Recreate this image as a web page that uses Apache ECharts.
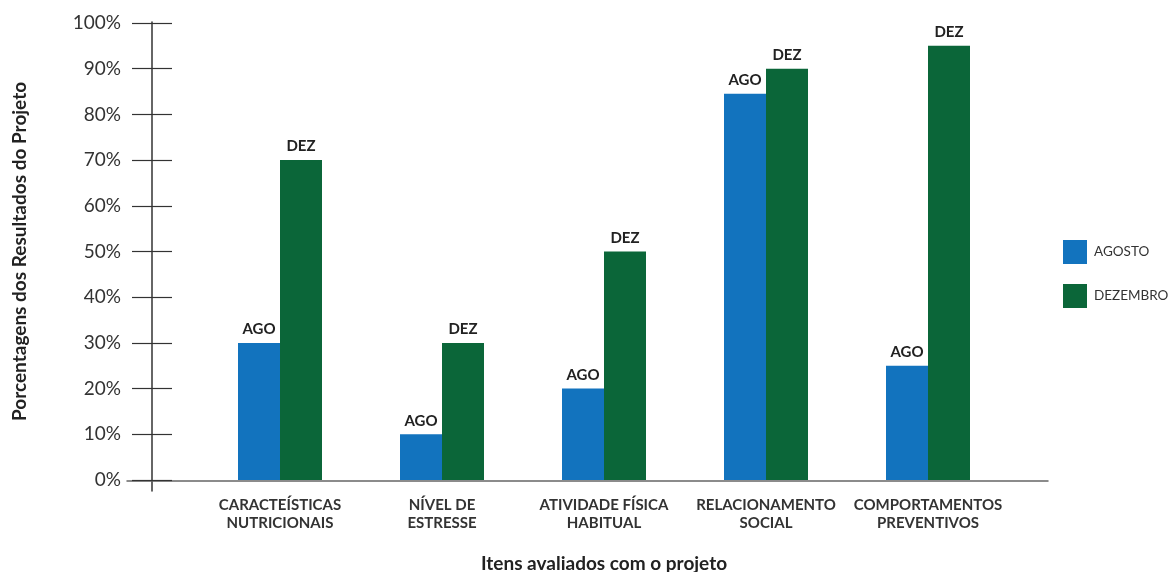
<!DOCTYPE html>
<html>
<head>
<meta charset="utf-8">
<script src="https://cdn.jsdelivr.net/npm/echarts@6/dist/echarts.min.js"></script>
<style>html,body{margin:0;padding:0;background:#fff}#c{width:1171px;height:572px}</style>
</head>
<body>
<div id="c"></div>
<script>
var categories = ['CARACTEÍSTICAS\nNUTRICIONAIS', 'NÍVEL DE\nESTRESSE', 'ATIVIDADE FÍSICA\nHABITUAL', 'RELACIONAMENTO\nSOCIAL', 'COMPORTAMENTOS\nPREVENTIVOS'];
var agosto = [30, 10, 20, 84.5, 25];
var dezembro = [70, 30, 50, 90, 95];
var seriesNames = ['AGOSTO', 'DEZEMBRO'];
var barLabels = ['AGO', 'DEZ'];
var FONT = 'Lato, "Noto Sans", sans-serif';
var chart = echarts.init(document.getElementById('c'));
chart.setOption({
  animation: false,
  backgroundColor: '#fff',
  legend: {
    orient: 'vertical', left: 1058, top: 235, itemWidth: 24, itemHeight: 24, itemGap: 20,
    icon: 'rect',
    textStyle: { fontFamily: FONT, fontSize: 13.5, color: '#333', padding: [0, 0, 0, 2] },
    data: seriesNames
  },
  grid: [
    { left: 199, right: 162, top: 23, bottom: 92, outerBoundsMode: 'none', containLabel: false },
    { left: 127, right: 123, top: 23, bottom: 91, outerBoundsMode: 'none', containLabel: false },
    { left: 152, width: 10, top: 22, bottom: 81, outerBoundsMode: 'none', containLabel: false }
  ],
  xAxis: [
    { type: 'category', gridIndex: 0, data: categories,
      axisLine: { show: false }, axisTick: { show: false },
      axisLabel: { interval: 0, fontFamily: FONT, fontWeight: 'bold', fontSize: 15, color: '#333', lineHeight: 18, margin: 16 },
      name: 'Itens avaliados com o projeto', nameLocation: 'middle', nameGap: 74,
      nameTextStyle: { fontFamily: FONT, fontWeight: 'bold', fontSize: 19, color: '#222' }
    },
    { type: 'value', gridIndex: 1, axisLine: { show: true, onZero: false, lineStyle: { color: '#666', width: 1.5 } },
      axisTick: { show: false }, axisLabel: { show: false }, splitLine: { show: false } },
    { type: 'value', gridIndex: 2, show: false }
  ],
  yAxis: [
    { type: 'value', gridIndex: 0, position: 'left', min: 0, max: 100, interval: 10, offset: 47,
      axisLine: { show: false },
      axisTick: { show: true, length: 20, lineStyle: { color: '#333', width: 1.2 } },
      axisLabel: { formatter: '{value}%', fontFamily: FONT, fontSize: 19, color: '#333', margin: 31 },
      splitLine: { show: false },
      name: 'Porcentagens dos Resultados do Projeto', nameLocation: 'middle', nameGap: 123,
      nameTextStyle: { fontFamily: FONT, fontWeight: 'bold', fontSize: 19, color: '#222' }
    },
    { type: 'value', gridIndex: 0, position: 'left', min: 0, max: 100, interval: 10, offset: 47,
      axisLine: { show: false },
      axisTick: { show: true, inside: true, length: 20, lineStyle: { color: '#333', width: 1.2 } },
      axisLabel: { show: false }, splitLine: { show: false }
    },
    { type: 'value', gridIndex: 1, show: false },
    { type: 'value', gridIndex: 2, axisLine: { show: true, onZero: false, lineStyle: { color: '#333', width: 1.5 } },
      axisTick: { show: false }, axisLabel: { show: false }, splitLine: { show: false } }
  ],
  series: [
    { name: seriesNames[0], type: 'bar', xAxisIndex: 0, yAxisIndex: 0, data: agosto,
      barWidth: 42, barGap: '0%', itemStyle: { color: '#1273BE' },
      label: { show: true, position: 'top', distance: 6, formatter: barLabels[0],
        fontFamily: FONT, fontWeight: 'bold', fontSize: 15, color: '#222' } },
    { name: seriesNames[1], type: 'bar', xAxisIndex: 0, yAxisIndex: 0, data: dezembro,
      barWidth: 42, barGap: '0%', itemStyle: { color: '#0B6639' },
      label: { show: true, position: 'top', distance: 6, formatter: barLabels[1],
        fontFamily: FONT, fontWeight: 'bold', fontSize: 15, color: '#222' } }
  ]
});
</script>
</body>
</html>
